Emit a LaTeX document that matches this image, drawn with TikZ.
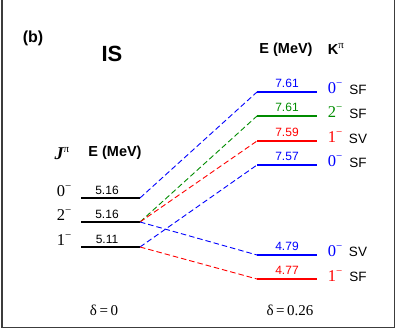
\documentclass[tikz,border=0pt]{standalone}
\usepackage{fontspec}
\setmainfont{Liberation Sans}
\newfontfamily\tms{Liberation Serif}
\definecolor{cblue}{RGB}{0,0,255}
\definecolor{cgreen}{RGB}{0,140,0}
\definecolor{cred}{RGB}{255,0,0}
\definecolor{cframe}{RGB}{60,60,60}
\newcommand{\supmin}{\raisebox{6.5pt}{\fontsize{11}{11}\tms −}}
\tikzset{
  frameline/.style={draw=cframe,line width=1.5pt},
  lvl/.style={line width=2.2pt},
  conn/.style={line width=0.9pt,dash pattern=on 5.5pt off 3pt},
  val/.style={inner sep=0pt,font=\fontsize{12}{12}\selectfont},
  kp/.style={inner sep=0pt,font=\fontsize{16.5}{16.5}\tms},
  typ/.style={inner sep=0pt,font=\fontsize{13.5}{13.5}\selectfont},
  head/.style={inner sep=0pt,font=\fontsize{14.5}{14.5}\bfseries},
  dlt/.style={inner sep=0pt,font=\fontsize{15}{15}\tms}
}
\begin{document}
\begin{tikzpicture}[x=1pt,y=-1pt]
\useasboundingbox (0,0) rectangle (397,331);
\draw[frameline] (2.2,-3) -- (2.2,327.5) -- (394.5,327.5) -- (394.5,-3);

\node[inner sep=0pt,font=\fontsize{16}{16}\bfseries] (b) at (33,38) {(b)};
\node[inner sep=0pt,font=\fontsize{22}{22}\bfseries] (is) at (112,54) {IS};

% headers
\node[inner sep=0pt,font=\fontsize{18}{18}\tms\bfseries\itshape] (jp) at (62,154) {J\raisebox{7pt}{\fontsize{11}{11}\tms\mdseries\upshape π}};
\node[head] (eL) at (115,153) {E (MeV)};
\node[head] (eR) at (286,50) {E (MeV)};
\node[head] (kpi) at (336,49) {K\raisebox{6.5pt}{\fontsize{11}{11}\tms\mdseries π}};

% left levels
\coordinate (a0s) at (81,198);  \coordinate (a0e) at (140,198);
\coordinate (a2s) at (81,222);  \coordinate (a2e) at (140,222);
\coordinate (a1s) at (81,247);  \coordinate (a1e) at (140,247);
\draw[lvl] (a0s) -- (a0e);
\draw[lvl] (a2s) -- (a2e);
\draw[lvl] (a1s) -- (a1e);
\node[val] (va0) at (107,190) {5.16};
\node[val] (va2) at (107,214) {5.16};
\node[val] (va1) at (107,239) {5.11};
\node[kp] (ja0) at (64,191) {0\supmin};
\node[kp] (ja2) at (64,215) {2\supmin};
\node[kp] (ja1) at (64,240) {1\supmin};

% right levels
\coordinate (r1s) at (257,92);  \coordinate (r1e) at (317,92);
\coordinate (r2s) at (257,116); \coordinate (r2e) at (317,116);
\coordinate (r3s) at (257,141); \coordinate (r3e) at (317,141);
\coordinate (r4s) at (257,165); \coordinate (r4e) at (317,165);
\coordinate (r5s) at (257,255); \coordinate (r5e) at (317,255);
\coordinate (r6s) at (257,279); \coordinate (r6e) at (317,279);
\draw[lvl,cblue]  (r1s) -- (r1e);
\draw[lvl,cgreen] (r2s) -- (r2e);
\draw[lvl,cred]   (r3s) -- (r3e);
\draw[lvl,cblue]  (r4s) -- (r4e);
\draw[lvl,cblue]  (r5s) -- (r5e);
\draw[lvl,cred]   (r6s) -- (r6e);
\node[val,cblue]  (vr1) at (287,83) {7.61};
\node[val,cgreen] (vr2) at (287,107) {7.61};
\node[val,cred]   (vr3) at (287,132) {7.59};
\node[val,cblue]  (vr4) at (287,156) {7.57};
\node[val,cblue]  (vr5) at (287,246) {4.79};
\node[val,cred]   (vr6) at (287,270) {4.77};
\node[kp,cblue]  (k1) at (335,88) {0\supmin};
\node[kp,cgreen] (k2) at (335,112) {2\supmin};
\node[kp,cred]   (k3) at (335,137) {1\supmin};
\node[kp,cblue]  (k4) at (335,161) {0\supmin};
\node[kp,cblue]  (k5) at (335,251) {0\supmin};
\node[kp,cred]   (k6) at (335,276) {1\supmin};
\node[typ] (t1) at (358,89.5) {SF};
\node[typ] (t2) at (358,114) {SF};
\node[typ] (t3) at (358,138.5) {SV};
\node[typ] (t4) at (358,163) {SF};
\node[typ] (t5) at (358,252) {SV};
\node[typ] (t6) at (358,277) {SF};

% connectors
\draw[conn,cblue]  (a0e) -- (r1s);
\draw[conn,cgreen] (a2e) -- (r2s);
\draw[conn,cred]   (a2e) -- (r3s);
\draw[conn,cblue]  (a1e) -- (r4s);
\draw[conn,cblue]  (a2e) -- (r5s);
\draw[conn,cred]   (a1e) -- (r6s);

\node[dlt] (d0) at (104,310) {δ\,=\,0};
\node[dlt] (d1) at (290,310) {δ\,=\,0.26};
\end{tikzpicture}
\end{document}
